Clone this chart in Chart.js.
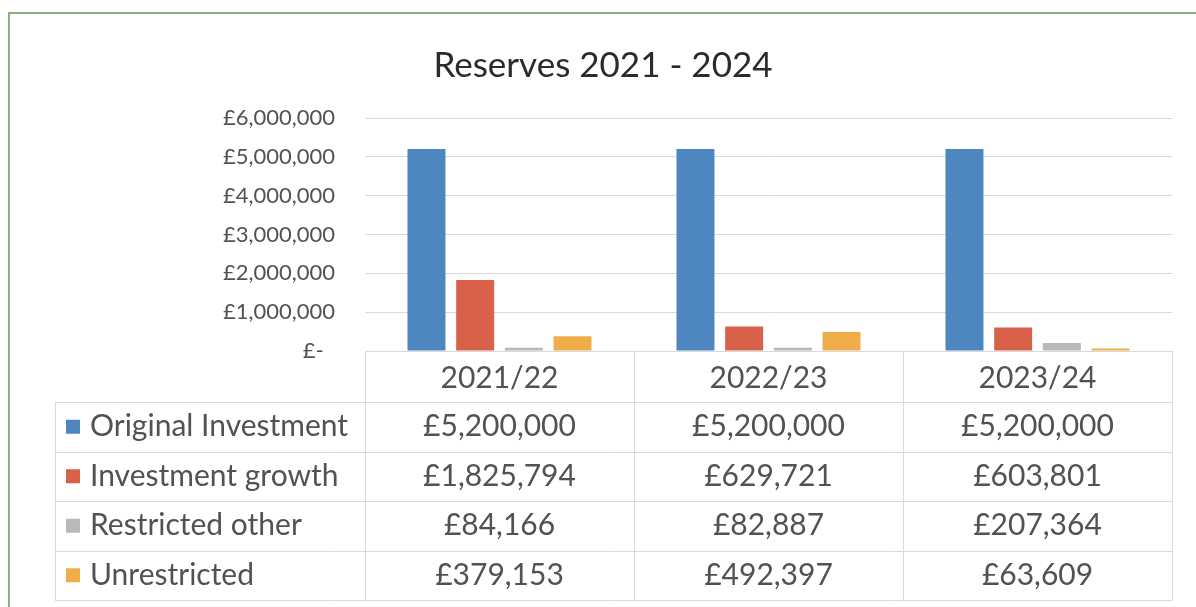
<!DOCTYPE html>
<html>
<head>
<meta charset="utf-8">
<script src="https://cdn.jsdelivr.net/npm/chart.js@4"></script>
<style>
  body { margin: 0; background: #fff; overflow: hidden; }
  #frame { position: absolute; left: 8px; top: 12px; width: 1200px; height: 620px; border: 2px solid #8fae80; }
  #chart { position: absolute; left: 0; top: 0; }
</style>
</head>
<body>
<div id="frame"></div>
<canvas id="chart" width="1196" height="607"></canvas>
<script>
const categories = ["2021/22", "2022/23", "2023/24"];
const seriesNames = ["Original Investment", "Investment growth", "Restricted other", "Unrestricted"];
const originalInvestment = [5200000, 5200000, 5200000];
const investmentGrowth = [1825794, 629721, 603801];
const restrictedOther = [84166, 82887, 207364];
const unrestricted = [379153, 492397, 63609];
const seriesColors = ["#4e86bf", "#d9614a", "#b9b9b9", "#efad4a"];

const FONT = "Lato, 'Open Sans', sans-serif";
const TEXT = "#525252";
const LINE = "#d9d9d9";

function pounds(v) {
  return "£" + v.toLocaleString("en-GB");
}

const allSeries = [originalInvestment, investmentGrowth, restrictedOther, unrestricted];

// data table under the plot, laid out from the x scale
const dataTable = {
  id: "dataTable",
  afterDraw(chart) {
    const ctx = chart.ctx;
    const { left, right, bottom } = chart.chartArea;
    const xs = chart.scales.x;
    const colW = (right - left) / categories.length;
    const tableLeft = 55;
    const headBottom = bottom + 51;
    const rowH = 49.5;
    const tableBottom = headBottom + rowH * seriesNames.length;

    ctx.save();
    ctx.strokeStyle = LINE;
    ctx.lineWidth = 1;
    ctx.beginPath();
    // horizontal lines
    ctx.moveTo(left, bottom + 0.5); ctx.lineTo(right, bottom + 0.5);
    for (let r = 0; r <= seriesNames.length; r++) {
      const y = Math.round(headBottom + r * rowH) + 0.5;
      ctx.moveTo(tableLeft, y); ctx.lineTo(right, y);
    }
    // vertical lines
    for (let c = 0; c <= categories.length; c++) {
      const x = Math.round(left + c * colW) + 0.5;
      ctx.moveTo(x, bottom); ctx.lineTo(x, tableBottom);
    }
    ctx.moveTo(tableLeft + 0.5, headBottom); ctx.lineTo(tableLeft + 0.5, tableBottom);
    ctx.stroke();

    ctx.fillStyle = TEXT;
    ctx.font = "30px " + FONT;
    ctx.textAlign = "center";
    ctx.textBaseline = "middle";
    categories.forEach((c, i) => {
      ctx.fillText(c, xs.getPixelForValue(i), (bottom + headBottom) / 2 + 2);
    });

    seriesNames.forEach((name, r) => {
      const yc = headBottom + r * rowH + rowH / 2;
      ctx.fillStyle = seriesColors[r];
      ctx.fillRect(66, yc - 7, 14, 14);
      ctx.fillStyle = TEXT;
      ctx.textAlign = "left";
      ctx.fillText(name, 90, yc);
      ctx.textAlign = "center";
      allSeries[r].forEach((v, i) => {
        ctx.fillText(pounds(v), xs.getPixelForValue(i), yc);
      });
    });
    ctx.restore();
  }
};

new Chart(document.getElementById("chart"), {
  type: "bar",
  data: {
    labels: categories,
    datasets: seriesNames.map((name, i) => ({
      label: name,
      data: allSeries[i],
      backgroundColor: seriesColors[i],
      borderWidth: 0,
      barPercentage: 0.78,
      categoryPercentage: 0.724
    }))
  },
  options: {
    responsive: false,
    animation: false,
    layout: { padding: { left: 34, right: 24, top: 0, bottom: 256 } },
    plugins: {
      legend: { display: false },
      tooltip: { enabled: false },
      title: {
        display: true,
        text: "Reserves 2021 - 2024",
        color: "#2b2b2b",
        font: { family: FONT, size: 35, weight: "normal" },
        padding: { top: 45, bottom: 31 }
      }
    },
    scales: {
      x: { display: false },
      y: {
        min: 0,
        max: 6000000,
        afterFit(scale) { scale.width = 331; },
        ticks: {
          stepSize: 1000000,
          padding: 30,
          color: TEXT,
          font: { family: FONT, size: 22 },
          callback: v => v === 0 ? "£-  " : pounds(v)
        },
        grid: { color: LINE, drawTicks: false },
        border: { display: false }
      }
    }
  },
  plugins: [dataTable]
});
</script>
</body>
</html>
